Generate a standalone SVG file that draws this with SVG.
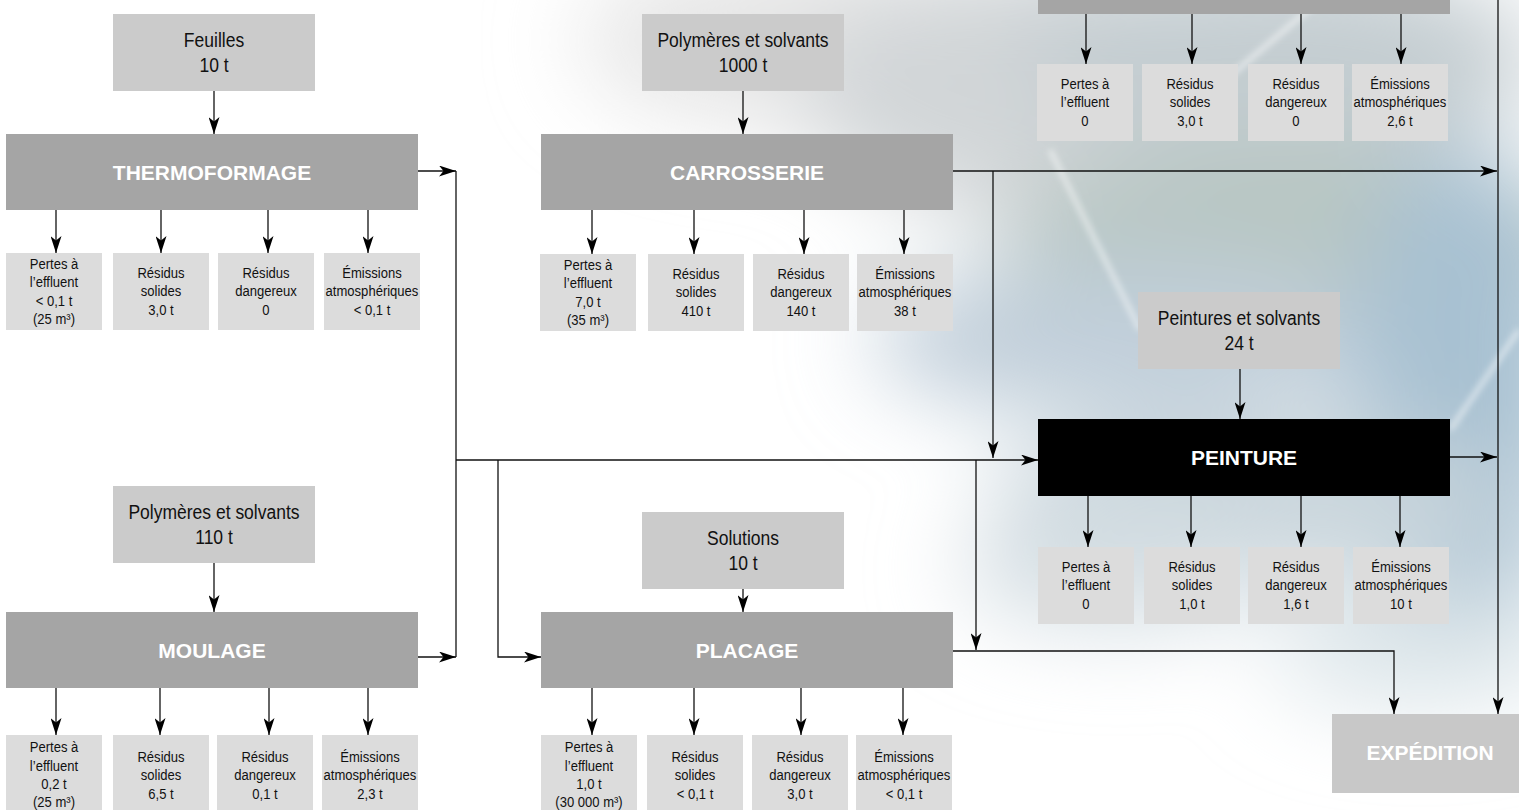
<svg xmlns="http://www.w3.org/2000/svg" width="1519" height="810" viewBox="0 0 1519 810">
<defs>
<style>
.in{fill:#cbcbcb}
.proc{fill:#a5a5a5}
.sub{fill:#dcdcdc}
.t{font-family:"Liberation Sans",Arial,sans-serif;font-size:15px;fill:#111;text-anchor:middle}
.ti{font-size:20px}
.tp{font-size:21px;font-weight:bold;fill:#ffffff}
.c{fill:none;stroke:#111;stroke-width:1.3}
.a{marker-end:url(#ah)}
</style>
<marker id="ah" viewBox="0 0 17 11" refX="17" refY="5.5" markerWidth="17" markerHeight="11" orient="auto" markerUnits="userSpaceOnUse">
<path d="M0,0 L17,5.5 L0,11 L4.5,5.5 z" fill="#000"/>
</marker>
<filter id="bl" x="-50%" y="-50%" width="200%" height="200%"><feGaussianBlur stdDeviation="45"/></filter>
<filter id="bs" x="-20%" y="-20%" width="140%" height="140%"><feGaussianBlur stdDeviation="3"/></filter>
</defs>
<g id="background">
<rect x="0" y="0" width="1519" height="810" fill="#ffffff"/>
<g filter="url(#bl)">
<ellipse cx="800" cy="40" rx="220" ry="90" fill="#e6e6e6"/>
<ellipse cx="1050" cy="90" rx="250" ry="130" fill="#d2d6d8"/>
<ellipse cx="1280" cy="60" rx="260" ry="100" fill="#c4cdd1"/>
<ellipse cx="1300" cy="250" rx="300" ry="110" fill="#b7c6c2"/>
<ellipse cx="1130" cy="340" rx="260" ry="80" fill="#c1cfda"/>
<ellipse cx="1460" cy="400" rx="110" ry="260" fill="#a8c1d2"/>
<ellipse cx="1250" cy="500" rx="260" ry="80" fill="#c9d5dc"/>
<ellipse cx="1120" cy="570" rx="160" ry="60" fill="#d6dfe4"/>
<ellipse cx="1420" cy="650" rx="150" ry="60" fill="#dde6ea"/>
</g>
<g filter="url(#bs)" stroke="#ffffff" stroke-opacity="0.55" stroke-width="5" fill="none">
<path d="M1050,150 L1140,330"/>
<path d="M1320,0 L1190,110"/>
<path d="M1519,330 L1450,430"/>
</g>
</g>

<g id="connectors">
<path class="c a" d="M214,91 V134"/>
<path class="c a" d="M743,91 V134"/>
<path class="c a" d="M214,563 V612"/>
<path class="c a" d="M743,589 V612"/>
<path class="c a" d="M1240,369 V419"/>
<path class="c a" d="M56,210 V253"/>
<path class="c a" d="M161,210 V253"/>
<path class="c a" d="M268,210 V253"/>
<path class="c a" d="M368,210 V253"/>
<path class="c a" d="M592,210 V254"/>
<path class="c a" d="M694,210 V254"/>
<path class="c a" d="M804,210 V254"/>
<path class="c a" d="M904,210 V254"/>
<path class="c a" d="M1086,14 V64"/>
<path class="c a" d="M1192,14 V64"/>
<path class="c a" d="M1301,14 V64"/>
<path class="c a" d="M1401,14 V64"/>
<path class="c a" d="M1088,496 V547"/>
<path class="c a" d="M1191,496 V547"/>
<path class="c a" d="M1301,496 V547"/>
<path class="c a" d="M1400,496 V547"/>
<path class="c a" d="M56,688 V735"/>
<path class="c a" d="M160,688 V735"/>
<path class="c a" d="M269,688 V735"/>
<path class="c a" d="M368,688 V735"/>
<path class="c a" d="M592,688 V735"/>
<path class="c a" d="M694,688 V735"/>
<path class="c a" d="M801,688 V735"/>
<path class="c a" d="M903,688 V735"/>
<path class="c a" d="M418,171 H456"/>
<path class="c a" d="M418,657 H456"/>
<path class="c" d="M456,171 V657"/>
<path class="c a" d="M456,460 H1038"/>
<path class="c a" d="M498,460 V657 H541"/>
<path class="c a" d="M953,171 H1497"/>
<path class="c a" d="M993,171 V458"/>
<path class="c a" d="M976,460 V650"/>
<path class="c a" d="M953,651 H1394 V714"/>
<path class="c a" d="M1450,457 H1497"/>
<path class="c a" d="M1498,0 V714"/>
</g>

<g id="top-process"><rect class="proc" x="1038" y="-70" width="412" height="84"/></g>

<g id="feuilles"><rect class="in" x="113" y="14" width="202" height="77"/>
<text class="t ti" transform="translate(214 0) scale(0.875 1)" x="0" y="47">Feuilles<tspan x="0" dy="25">10 t</tspan></text></g>
<g id="polymeres-1000"><rect class="in" x="642" y="14" width="202" height="77"/>
<text class="t ti" transform="translate(743 0) scale(0.875 1)" x="0" y="47">Polymères et solvants<tspan x="0" dy="25">1000 t</tspan></text></g>
<g id="polymeres-110"><rect class="in" x="113" y="486" width="202" height="77"/>
<text class="t ti" transform="translate(214 0) scale(0.875 1)" x="0" y="519">Polymères et solvants<tspan x="0" dy="25">110 t</tspan></text></g>
<g id="solutions"><rect class="in" x="642" y="512" width="202" height="77"/>
<text class="t ti" transform="translate(743 0) scale(0.875 1)" x="0" y="545">Solutions<tspan x="0" dy="25">10 t</tspan></text></g>
<g id="peintures-solvants"><rect class="in" x="1138" y="292" width="202" height="77"/>
<text class="t ti" transform="translate(1239 0) scale(0.875 1)" x="0" y="325">Peintures et solvants<tspan x="0" dy="25">24 t</tspan></text></g>

<g id="thermoformage"><rect class="proc" x="6" y="134" width="412" height="76"/>
<text class="t tp" x="212" y="180">THERMOFORMAGE</text></g>
<g id="carrosserie"><rect class="proc" x="541" y="134" width="412" height="76"/>
<text class="t tp" x="747" y="180">CARROSSERIE</text></g>
<g id="moulage"><rect class="proc" x="6" y="612" width="412" height="76"/>
<text class="t tp" x="212" y="658">MOULAGE</text></g>
<g id="placage"><rect class="proc" x="541" y="612" width="412" height="76"/>
<text class="t tp" x="747" y="658">PLACAGE</text></g>
<g id="peinture"><rect x="1038" y="419" width="412" height="77" fill="#000"/>
<text class="t tp" x="1244" y="465">PEINTURE</text></g>
<g id="expedition"><rect x="1332" y="714" width="190" height="79" fill="#c8c8c8"/>
<text class="t tp" x="1430" y="760">EXPÉDITION</text></g>

<g id="thermo-outputs">
<rect class="sub" x="6" y="253" width="96" height="77"/>
<text class="t" transform="translate(54 0) scale(0.87 1)" x="0" y="269">Pertes à<tspan x="0" dy="18.5">l’effluent</tspan><tspan x="0" dy="18.5">&lt; 0,1 t</tspan><tspan x="0" dy="18.5">(25 m³)</tspan></text>
<rect class="sub" x="113" y="253" width="96" height="77"/>
<text class="t" transform="translate(161 0) scale(0.87 1)" x="0" y="278">Résidus<tspan x="0" dy="18.5">solides</tspan><tspan x="0" dy="18.5">3,0 t</tspan></text>
<rect class="sub" x="218" y="253" width="96" height="77"/>
<text class="t" transform="translate(266 0) scale(0.87 1)" x="0" y="278">Résidus<tspan x="0" dy="18.5">dangereux</tspan><tspan x="0" dy="18.5">0</tspan></text>
<rect class="sub" x="324" y="253" width="96" height="77"/>
<text class="t" transform="translate(372 0) scale(0.87 1)" x="0" y="278">Émissions<tspan x="0" dy="18.5">atmosphériques</tspan><tspan x="0" dy="18.5">&lt; 0,1 t</tspan></text>
</g>

<g id="carrosserie-outputs">
<rect class="sub" x="540" y="254" width="96" height="77"/>
<text class="t" transform="translate(588 0) scale(0.87 1)" x="0" y="270">Pertes à<tspan x="0" dy="18.5">l’effluent</tspan><tspan x="0" dy="18.5">7,0 t</tspan><tspan x="0" dy="18.5">(35 m³)</tspan></text>
<rect class="sub" x="648" y="254" width="96" height="77"/>
<text class="t" transform="translate(696 0) scale(0.87 1)" x="0" y="279">Résidus<tspan x="0" dy="18.5">solides</tspan><tspan x="0" dy="18.5">410 t</tspan></text>
<rect class="sub" x="753" y="254" width="96" height="77"/>
<text class="t" transform="translate(801 0) scale(0.87 1)" x="0" y="279">Résidus<tspan x="0" dy="18.5">dangereux</tspan><tspan x="0" dy="18.5">140 t</tspan></text>
<rect class="sub" x="857" y="254" width="96" height="77"/>
<text class="t" transform="translate(905 0) scale(0.87 1)" x="0" y="279">Émissions<tspan x="0" dy="18.5">atmosphériques</tspan><tspan x="0" dy="18.5">38 t</tspan></text>
</g>

<g id="top-outputs">
<rect class="sub" x="1037" y="64" width="96" height="77"/>
<text class="t" transform="translate(1085 0) scale(0.87 1)" x="0" y="89">Pertes à<tspan x="0" dy="18.5">l’effluent</tspan><tspan x="0" dy="18.5">0</tspan></text>
<rect class="sub" x="1142" y="64" width="96" height="77"/>
<text class="t" transform="translate(1190 0) scale(0.87 1)" x="0" y="89">Résidus<tspan x="0" dy="18.5">solides</tspan><tspan x="0" dy="18.5">3,0 t</tspan></text>
<rect class="sub" x="1248" y="64" width="96" height="77"/>
<text class="t" transform="translate(1296 0) scale(0.87 1)" x="0" y="89">Résidus<tspan x="0" dy="18.5">dangereux</tspan><tspan x="0" dy="18.5">0</tspan></text>
<rect class="sub" x="1352" y="64" width="96" height="77"/>
<text class="t" transform="translate(1400 0) scale(0.87 1)" x="0" y="89">Émissions<tspan x="0" dy="18.5">atmosphériques</tspan><tspan x="0" dy="18.5">2,6 t</tspan></text>
</g>

<g id="peinture-outputs">
<rect class="sub" x="1038" y="547" width="96" height="77"/>
<text class="t" transform="translate(1086 0) scale(0.87 1)" x="0" y="572">Pertes à<tspan x="0" dy="18.5">l’effluent</tspan><tspan x="0" dy="18.5">0</tspan></text>
<rect class="sub" x="1144" y="547" width="96" height="77"/>
<text class="t" transform="translate(1192 0) scale(0.87 1)" x="0" y="572">Résidus<tspan x="0" dy="18.5">solides</tspan><tspan x="0" dy="18.5">1,0 t</tspan></text>
<rect class="sub" x="1248" y="547" width="96" height="77"/>
<text class="t" transform="translate(1296 0) scale(0.87 1)" x="0" y="572">Résidus<tspan x="0" dy="18.5">dangereux</tspan><tspan x="0" dy="18.5">1,6 t</tspan></text>
<rect class="sub" x="1353" y="547" width="96" height="77"/>
<text class="t" transform="translate(1401 0) scale(0.87 1)" x="0" y="572">Émissions<tspan x="0" dy="18.5">atmosphériques</tspan><tspan x="0" dy="18.5">10 t</tspan></text>
</g>

<g id="moulage-outputs">
<rect class="sub" x="6" y="735" width="96" height="80"/>
<text class="t" transform="translate(54 0) scale(0.87 1)" x="0" y="752">Pertes à<tspan x="0" dy="18.5">l’effluent</tspan><tspan x="0" dy="18.5">0,2 t</tspan><tspan x="0" dy="18.5">(25 m³)</tspan></text>
<rect class="sub" x="113" y="735" width="96" height="80"/>
<text class="t" transform="translate(161 0) scale(0.87 1)" x="0" y="762">Résidus<tspan x="0" dy="18.5">solides</tspan><tspan x="0" dy="18.5">6,5 t</tspan></text>
<rect class="sub" x="217" y="735" width="96" height="80"/>
<text class="t" transform="translate(265 0) scale(0.87 1)" x="0" y="762">Résidus<tspan x="0" dy="18.5">dangereux</tspan><tspan x="0" dy="18.5">0,1 t</tspan></text>
<rect class="sub" x="322" y="735" width="96" height="80"/>
<text class="t" transform="translate(370 0) scale(0.87 1)" x="0" y="762">Émissions<tspan x="0" dy="18.5">atmosphériques</tspan><tspan x="0" dy="18.5">2,3 t</tspan></text>
</g>

<g id="placage-outputs">
<rect class="sub" x="541" y="735" width="96" height="80"/>
<text class="t" transform="translate(589 0) scale(0.87 1)" x="0" y="752">Pertes à<tspan x="0" dy="18.5">l’effluent</tspan><tspan x="0" dy="18.5">1,0 t</tspan><tspan x="0" dy="18.5">(30 000 m³)</tspan></text>
<rect class="sub" x="647" y="735" width="96" height="80"/>
<text class="t" transform="translate(695 0) scale(0.87 1)" x="0" y="762">Résidus<tspan x="0" dy="18.5">solides</tspan><tspan x="0" dy="18.5">&lt; 0,1 t</tspan></text>
<rect class="sub" x="752" y="735" width="96" height="80"/>
<text class="t" transform="translate(800 0) scale(0.87 1)" x="0" y="762">Résidus<tspan x="0" dy="18.5">dangereux</tspan><tspan x="0" dy="18.5">3,0 t</tspan></text>
<rect class="sub" x="856" y="735" width="96" height="80"/>
<text class="t" transform="translate(904 0) scale(0.87 1)" x="0" y="762">Émissions<tspan x="0" dy="18.5">atmosphériques</tspan><tspan x="0" dy="18.5">&lt; 0,1 t</tspan></text>
</g>
</svg>
